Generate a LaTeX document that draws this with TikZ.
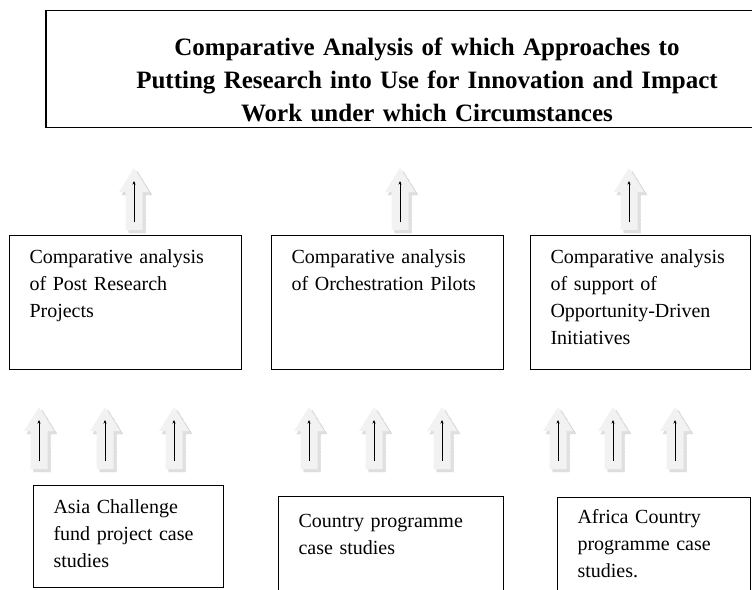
\documentclass[tikz,border=0pt]{standalone}
\usepackage{fontspec}
\setmainfont{Liberation Serif}
\usetikzlibrary{arrows.meta}

\tikzset{
  box/.style={draw, line width=1pt, anchor=north west, align=left,
    inner xsep=20pt, inner ysep=0pt, text height=28pt,
    font={\fontsize{20}{27}\selectfont}},
  aimbox/.style={draw, line width=1.2pt, anchor=north, align=center,
    inner xsep=20pt, inner ysep=0pt, text width=722pt,
    text height=45pt, text depth=72pt,
    font={\bfseries\fontsize{25}{33}\selectfont}},
  uparrow/.pic={
    % shadow first, then the arrow body on top
    \path[fill=gray!25, draw=gray!60, densely dotted]
      (3,3) -- (18,27) -- (11.5,27) -- (11.5,65) -- (-5.5,65) -- (-5.5,27) -- (-12,27) -- cycle;
    \path[fill=gray!10]
      (0,0) -- (15,24) -- (8.5,24) -- (8.5,62) -- (-8.5,62) -- (-8.5,24) -- (-15,24) -- cycle;
    \coordinate (-tip) at (0,13);
    \coordinate (-tail) at (0,54);
    \draw[line width=1pt, -{Stealth[length=3.5pt, width=3pt]}] (-tail) -- (-tip);
  }
}

\begin{document}
\begin{tikzpicture}[x=1pt, y=-1pt]
\useasboundingbox (0,0) rectangle (752,589);

% top
\node[aimbox] (aim) at (427,10) {Comparative Analysis of which Approaches to\\
  Putting Research into Use for Innovation and Impact\\
  Work under which Circumstances};

% comparative analyses
\node[box, text width=192pt, text depth=106pt] (prp) at (9,235)
  {Comparative analysis\\ of Post Research\\ Projects};
\node[box, text width=192pt, text depth=106pt] (orp) at (271,235)
  {Comparative analysis\\ of Orchestration Pilots};
\node[box, text width=180pt, text depth=106pt] (odi) at (530,235)
  {Comparative analysis\\ of support of\\ Opportunity-Driven\\ Initiatives};

% case studies
\node[box, text width=150pt, text depth=74pt] (acf) at (33,485)
  {Asia Challenge\\ fund project case\\ studies};
\node[box, text width=185pt, text height=31pt, text depth=75pt] (cps) at (278,496)
  {Country programme\\ case studies};
\node[box, text width=153pt, text height=26pt, text depth=80pt] (acp) at (557,497)
  {Africa Country\\ programme case\\ studies.};

% arrows
\foreach \x in {134,400,629}
  \pic (up\x) at (\x,168) {uparrow};
\foreach \x in {39,105,174,309,374,442,558,613,675}
  \pic (lo\x) at (\x,407) {uparrow};

\end{tikzpicture}
\end{document}
